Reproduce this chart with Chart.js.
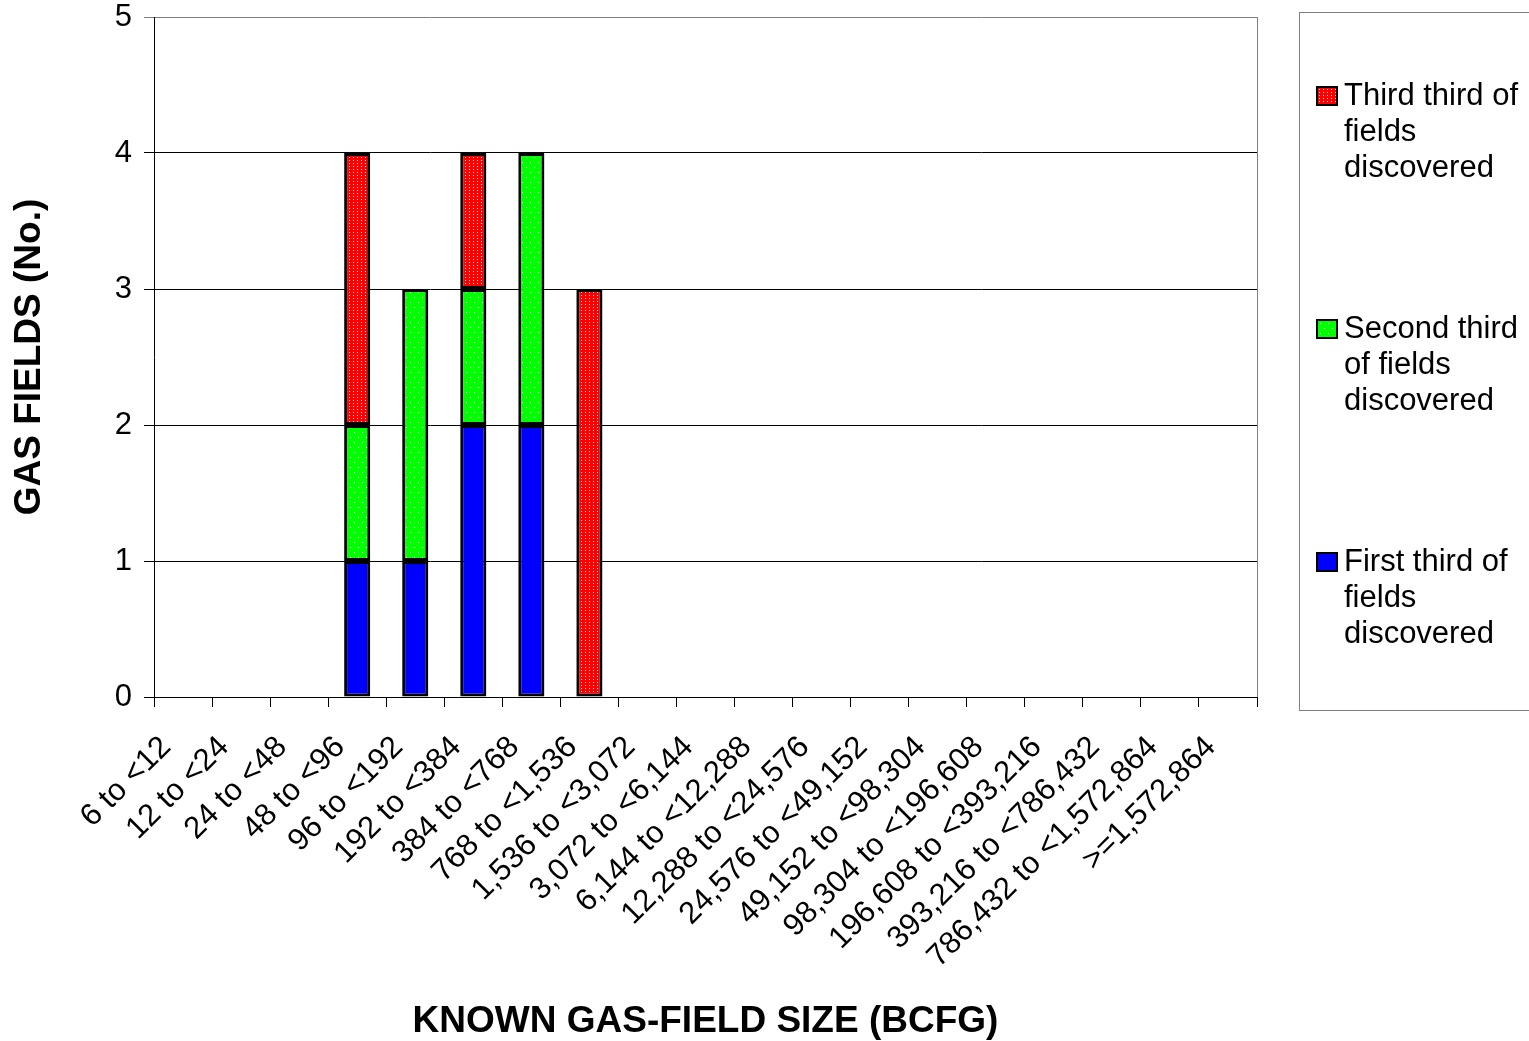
<!DOCTYPE html>
<html>
<head>
<meta charset="utf-8">
<script src="https://cdn.jsdelivr.net/npm/chart.js@4.4.1/dist/chart.umd.min.js"></script>
<style>
  body { margin: 0; background: #fff; font-family: "Liberation Sans", Arial, sans-serif; }
  #wrap { position: relative; width: 1529px; height: 1041px; }
  #legend { position: absolute; left: 1299px; top: 12px; width: 240px; height: 699px;
            border: 1px solid #808080; border-right: none; box-sizing: border-box; }
  .item { position: absolute; left: 0; font-size: 31px; line-height: 36px; color: #000; }
  .item .sw { position: absolute; left: 16px; top: 9px; width: 18px; height: 16px; border: 2px solid #000; }
  .item .tx { position: absolute; left: 44px; top: 0; white-space: nowrap; }
</style>
</head>
<body>
<div id="wrap">
  <canvas id="c" width="1529" height="1041"></canvas>
  <div id="legend">
    <div class="item" style="top:64px"><div class="sw" id="sw3"></div><div class="tx">Third third of<br>fields<br>discovered</div></div>
    <div class="item" style="top:297px"><div class="sw" id="sw2"></div><div class="tx">Second third<br>of fields<br>discovered</div></div>
    <div class="item" style="top:530px"><div class="sw" id="sw1"></div><div class="tx">First third of<br>fields<br>discovered</div></div>
  </div>
</div>
<script>
// classes de tamanho (BCFG)
const sizeClasses = [
  "6 to <12", "12 to <24", "24 to <48", "48 to <96", "96 to <192", "192 to <384",
  "384 to <768", "768 to <1,536", "1,536 to <3,072", "3,072 to <6,144",
  "6,144 to <12,288", "12,288 to <24,576", "24,576 to <49,152", "49,152 to <98,304",
  "98,304 to <196,608", "196,608 to <393,216", "393,216 to <786,432",
  "786,432 to <1,572,864", ">=1,572,864"
];
const firstThird  = [0, 0, 0, 1, 1, 2, 2, 0, 0, 0, 0, 0, 0, 0, 0, 0, 0, 0, 0];
const secondThird = [0, 0, 0, 1, 2, 1, 2, 0, 0, 0, 0, 0, 0, 0, 0, 0, 0, 0, 0];
const thirdThird  = [0, 0, 0, 2, 0, 1, 0, 3, 0, 0, 0, 0, 0, 0, 0, 0, 0, 0, 0];

// padrões pontilhados
function makePattern(w, h, bg, dots) {
  const t = document.createElement('canvas');
  t.width = w; t.height = h;
  const g = t.getContext('2d');
  g.fillStyle = bg; g.fillRect(0, 0, w, h);
  g.fillStyle = '#ffffff';
  dots.forEach(d => g.fillRect(d[0], d[1], 1, 1));
  return t;
}
const redTile = makePattern(4, 3, '#ff0000', [[1, 1]]);
const greenTile = makePattern(8, 10, '#00ff00', [[2, 2], [6, 7]]);
const ctx = document.getElementById('c').getContext('2d');
const redPat = ctx.createPattern(redTile, 'repeat');
const greenPat = ctx.createPattern(greenTile, 'repeat');

document.getElementById('sw3').style.background = 'url(' + redTile.toDataURL() + ')';
document.getElementById('sw2').style.background = 'url(' + greenTile.toDataURL() + ')';
document.getElementById('sw1').style.background = '#0000ff';

const frame = {
  id: 'frame',
  afterDraw(chart) {
    const a = chart.chartArea, g = chart.ctx;
    g.save();
    g.strokeStyle = '#808080';
    g.lineWidth = 1;
    g.beginPath();
    g.moveTo(a.right + 0.5, a.top);
    g.lineTo(a.right + 0.5, a.bottom);
    g.stroke();
    g.restore();
  }
};

const tickFont = { family: '"Liberation Sans", Arial, sans-serif', size: 31 };
const titleFont = { family: '"Liberation Sans", Arial, sans-serif', size: 37, weight: 'bold', lineHeight: 1.05 };

new Chart(ctx, {
  type: 'bar',
  data: {
    labels: sizeClasses,
    datasets: [
      { label: 'First third of fields discovered', data: firstThird, backgroundColor: '#0000ff' },
      { label: 'Second third of fields discovered', data: secondThird, backgroundColor: greenPat },
      { label: 'Third third of fields discovered', data: thirdThird, backgroundColor: redPat }
    ]
  },
  options: {
    responsive: false,
    animation: false,
    devicePixelRatio: 1,
    layout: { padding: { top: 17, right: 272, bottom: 0, left: 0 } },
    datasets: { bar: { borderColor: '#000', borderWidth: 3, borderSkipped: false, barPercentage: 0.45, categoryPercentage: 1 } },
    plugins: { legend: { display: false }, tooltip: { enabled: false } },
    scales: {
      x: {
        stacked: true,
        afterFit: s => { s.height = 344; },
        grid: { offset: true, drawOnChartArea: false, drawTicks: true, tickLength: 10, color: '#000' },
        border: { color: '#000', width: 1 },
        ticks: { color: '#000', font: tickFont, maxRotation: 45, minRotation: 45, autoSkip: false, padding: 22, labelOffset: -17 },
        title: { display: true, text: 'KNOWN GAS-FIELD SIZE (BCFG)', color: '#000', font: titleFont, padding: { top: 0, bottom: 0 } }
      },
      y: {
        stacked: true,
        min: 0, max: 5,
        afterFit: s => { s.width = 154; s.paddingTop = 0; s.paddingBottom = 0; },
        grid: { color: c => c.tick && c.tick.value === 5 ? '#808080' : '#000', tickLength: 10, lineWidth: 1 },
        border: { color: '#000', width: 1 },
        ticks: { stepSize: 1, color: '#000', font: tickFont, padding: 12 },
        title: { display: true, text: 'GAS FIELDS (No.)', color: '#000', font: titleFont, padding: { top: 10, bottom: 0 } }
      }
    }
  },
  plugins: [frame]
});
</script>
</body>
</html>
